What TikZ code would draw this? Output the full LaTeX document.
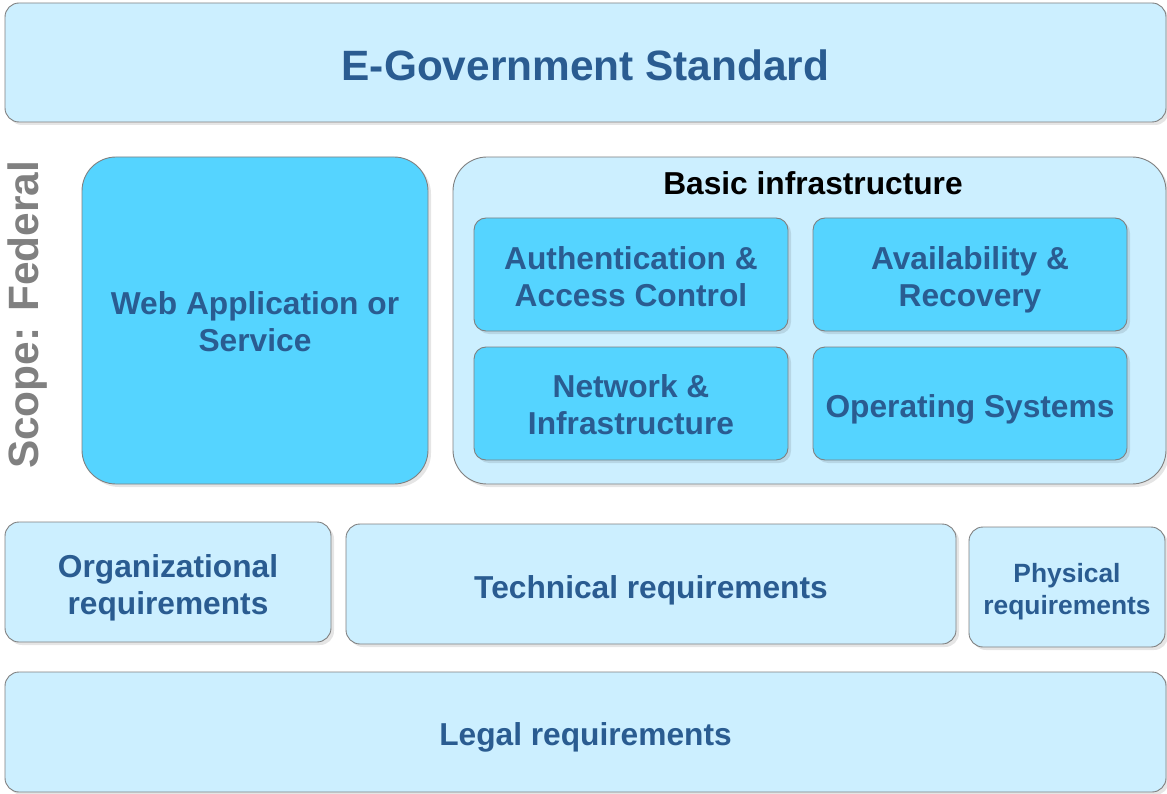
\documentclass[tikz,border=0pt]{standalone}
\usepackage{fontspec}
\setmainfont{Liberation Sans}
\usepackage{xcolor}
\usetikzlibrary{shadows}
\definecolor{paleblue}{RGB}{204,239,255}
\definecolor{skyblue}{RGB}{85,212,255}
\definecolor{navytext}{RGB}{42,92,145}
\definecolor{rimgray}{RGB}{128,128,128}
\newcommand{\bigtype}{\bfseries\fontsize{42.4}{50}\selectfont}
\newcommand{\midtype}{\bfseries\fontsize{31.7}{37}\selectfont}
\newcommand{\smalltype}{\bfseries\fontsize{26.4}{32}\selectfont}
\tikzset{
  box/.style={draw=rimgray, line width=0.9pt, rounded corners=14pt, inner sep=0pt,
    drop shadow={shadow xshift=3pt, shadow yshift=-3pt, fill=black, opacity=0.1}},
  palebox/.style={box, fill=paleblue},
  skybox/.style={box, fill=skyblue, rounded corners=12pt},
  boxtext/.style={text=navytext, font=\midtype, align=center, inner sep=0pt},
}

\begin{document}
\begin{tikzpicture}[x=1pt, y=-1pt]
  \useasboundingbox (0, 0) rectangle (1167, 794);
  \node[palebox, minimum width=1161, minimum height=119,
    label={[boxtext, font=\bigtype, yshift=-3]center:E-Government Standard}] (egov) at (585.5, 62.5) {};
  \node[rotate=90, text=rimgray, font=\bigtype] (scope) at (28, 315) {Scope: Federal};
  \node[skybox, rounded corners=34pt, minimum width=346, minimum height=327,
    label={[boxtext, yshift=-1]center:Web Application or\\Service}] (webapp) at (255, 320.5) {};
  \node[palebox, rounded corners=34pt, minimum width=713, minimum height=327] (basic) at (809.5, 320.5) {};
  \node[font=\midtype] (basiclabel) at (813, 183) {Basic infrastructure};
  \node[skybox, minimum width=314, minimum height=113,
    label={[boxtext, yshift=-2]center:Authentication \&\\Access Control}] (auth) at (631, 274.5) {};
  \node[skybox, minimum width=314, minimum height=113,
    label={[boxtext, yshift=-5]center:Availability \&\\Recovery}] (avail) at (970, 274.5) {};
  \node[skybox, minimum width=314, minimum height=113,
    label={[boxtext, yshift=-1]center:Network \&\\Infrastructure}] (network) at (631, 403.5) {};
  \node[skybox, minimum width=314, minimum height=113,
    label={[boxtext, yshift=-6]center:Operating Systems}] (os) at (970, 403.5) {};
  \node[palebox, minimum width=326, minimum height=120,
    label={[boxtext, yshift=-6]center:Organizational\\requirements}] (orgreq) at (168, 582) {};
  \node[palebox, minimum width=610, minimum height=120,
    label={[boxtext, yshift=-6]center:Technical requirements}] (techreq) at (651, 584) {};
  \node[palebox, minimum width=196, minimum height=120,
    label={[boxtext, font=\smalltype, yshift=-5]center:Physical\\requirements}] (physreq) at (1067, 587) {};
  \node[palebox, minimum width=1161, minimum height=120,
    label={[boxtext, yshift=-5]center:Legal requirements}] (legalreq) at (585.5, 732) {};
\end{tikzpicture}
\end{document}
